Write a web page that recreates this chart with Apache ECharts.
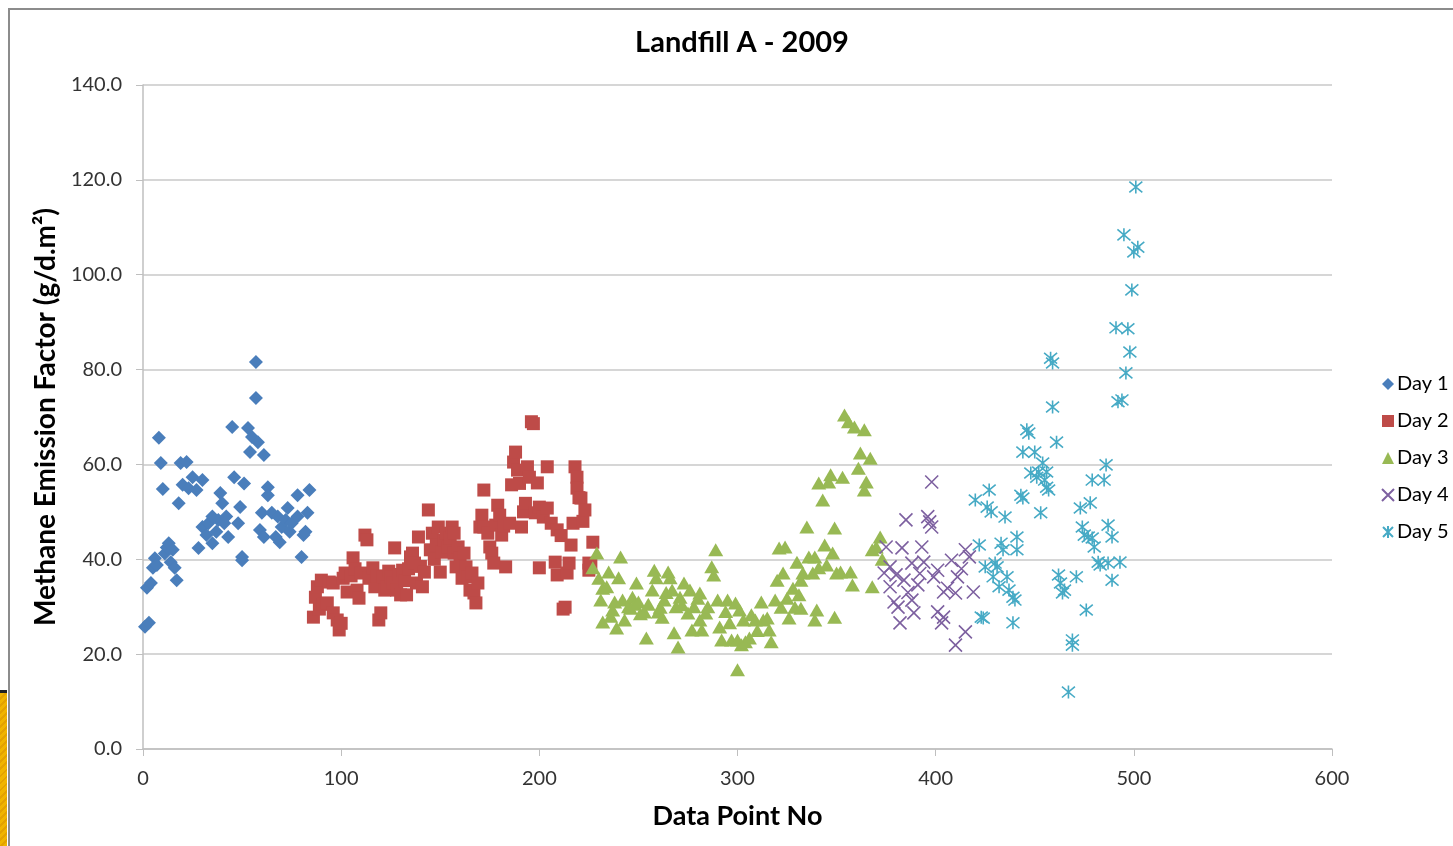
<!DOCTYPE html>
<html><head><meta charset="utf-8">
<script src="https://cdn.jsdelivr.net/npm/echarts@6/dist/echarts.min.js"></script>
<style>
html,body{margin:0;padding:0;background:#fff;}
#c{position:absolute;left:0;top:0;width:1453px;height:846px;}
#frame{position:absolute;left:8px;top:8px;right:0;bottom:0;border-top:2px solid #8c8c8c;border-left:2px solid #8c8c8c;pointer-events:none;}
#deco{position:absolute;left:0;top:690px;width:7px;height:156px;background:repeating-linear-gradient(135deg,#f0b400 0,#f0b400 3px,#e3a200 3px,#e3a200 5px);border-top:3px solid #222;}
</style></head>
<body>
<div id="c"></div>
<div id="frame"></div>
<div id="deco"></div>
<script>
const seriesNames = ['Day 1','Day 2','Day 3','Day 4','Day 5'];
const yTicks = [0,20,40,60,80,100,120,140];
const xTicks = [0,100,200,300,400,500,600];

const day1 = [[1,25.8],[2,34.0],[3,26.6],[4,35.0],[5,38.2],[6,40.2],[7,38.8],[8,65.6],[9,60.3],[10,54.8],[11,41.2],[12,42.5],[13,43.4],[14,39.4],[15,42.0],[16,38.2],[17,35.6],[18,51.8],[19,60.3],[20,55.7],[22,60.5],[23,55.0],[25,57.3],[27,54.6],[28,42.4],[30,56.7],[30,46.8],[33,47.6],[32,45.1],[35,49.0],[35,43.4],[37,45.8],[38,48.3],[39,54.0],[40,51.8],[42,49.0],[41,47.6],[43,44.7],[45,67.9],[46,57.3],[48,47.6],[49,51.0],[50,39.8],[50,40.5],[51,56.0],[53,67.7],[54,62.6],[55,65.8],[57,74.0],[57,81.6],[58,64.7],[61,62.0],[60,49.8],[59,46.2],[61,44.7],[63,55.2],[63,53.5],[65,49.8],[67,44.7],[68,49.0],[69,43.6],[70,46.8],[72,48.3],[73,50.8],[74,45.8],[75,47.6],[78,53.5],[78,49.0],[80,40.5],[81,45.1],[82,45.8],[83,49.8],[84,54.6]];

const day2 = [[86,27.8],[87,32.0],[88,34.2],[89,29.5],[90,35.6],[91,30.5],[93,30.8],[94,35.2],[96,35.0],[96,28.7],[98,27.2],[99,25.1],[100,26.5],[101,36.0],[102,37.1],[103,33.1],[105,36.5],[106,40.3],[107,38.0],[108,33.5],[109,31.8],[110,37.1],[112,45.1],[113,44.1],[114,36.0],[116,38.2],[117,34.2],[118,36.5],[119,27.2],[120,28.7],[121,36.3],[122,33.5],[123,34.2],[124,37.5],[125,36.3],[126,35.0],[127,42.4],[128,33.5],[129,36.8],[130,32.5],[131,37.7],[132,35.5],[133,32.5],[134,38.0],[135,40.5],[136,41.3],[137,39.2],[138,35.0],[139,44.7],[140,38.5],[141,34.2],[142,37.3],[144,50.4],[145,42.0],[146,45.5],[147,40.0],[148,43.0],[149,46.8],[150,37.3],[151,41.5],[152,44.0],[153,45.5],[154,42.5],[155,44.5],[156,46.8],[157,41.3],[158,38.4],[157,45.5],[159,42.6],[160,40.3],[161,36.0],[162,41.3],[163,38.4],[164,36.3],[165,33.5],[166,37.1],[167,32.9],[168,30.8],[169,35.0],[170,46.8],[171,49.3],[172,54.6],[172,46.8],[174,45.5],[175,42.6],[176,41.3],[177,39.2],[178,47.2],[179,51.4],[180,49.3],[181,45.1],[182,47.0],[183,38.4],[185,47.6],[186,55.7],[187,60.5],[188,62.6],[189,58.8],[190,56.0],[191,46.8],[192,50.0],[193,51.8],[194,59.5],[195,57.3],[196,69.0],[197,68.6],[198,49.8],[199,56.1],[200,51.0],[200,38.2],[202,48.9],[204,59.5],[204,50.8],[206,47.6],[208,39.4],[209,46.2],[209,36.7],[211,45.0],[212,29.5],[213,29.9],[214,37.1],[215,39.2],[216,43.0],[217,47.6],[218,59.5],[219,57.3],[219,55.0],[220,53.0],[221,52.9],[222,48.0],[223,50.4],[225,39.2],[225,37.7],[227,43.6],[226,38.8]];

const day3 = [[227,38.2],[229,41.3],[230,36.0],[231,31.4],[232,33.9],[232,26.8],[234,34.2],[235,37.3],[236,28.0],[237,29.3],[238,31.0],[239,25.5],[240,36.1],[241,40.5],[242,31.4],[243,27.2],[245,30.0],[246,29.7],[247,32.0],[248,30.5],[249,35.0],[250,31.0],[251,28.5],[253,28.9],[254,23.4],[255,30.5],[257,33.5],[258,37.7],[259,36.1],[260,28.9],[261,29.9],[262,27.8],[263,31.4],[264,33.0],[265,37.3],[266,36.1],[267,33.5],[268,24.5],[269,30.0],[270,21.5],[271,32.0],[272,30.4],[273,35.0],[275,28.7],[276,33.5],[277,25.1],[278,30.0],[280,31.8],[281,32.9],[281,27.2],[282,25.1],[284,28.7],[285,30.0],[287,38.4],[288,36.7],[289,42.0],[290,31.4],[291,25.7],[292,23.0],[294,29.0],[295,31.4],[296,26.6],[297,23.0],[299,30.8],[300,16.7],[300,23.0],[301,29.3],[302,22.0],[303,27.2],[304,22.6],[306,23.4],[307,28.3],[309,27.2],[310,25.0],[312,31.0],[313,27.2],[315,27.6],[316,25.1],[317,22.6],[319,31.4],[320,35.6],[321,42.4],[322,29.9],[323,37.1],[324,42.6],[325,31.8],[326,27.6],[328,33.9],[329,29.9],[330,39.4],[331,32.5],[332,29.7],[332,35.6],[333,37.1],[335,46.8],[336,40.5],[338,37.1],[339,40.5],[339,27.2],[340,29.3],[341,38.2],[341,56.1],[343,52.5],[344,43.0],[345,38.8],[346,56.3],[347,57.8],[348,41.3],[349,46.6],[349,27.8],[350,37.1],[352,37.3],[353,57.3],[354,70.4],[356,69.0],[357,37.3],[358,34.6],[359,67.9],[361,59.2],[362,62.4],[364,67.3],[364,54.6],[365,56.3],[367,61.3],[368,34.2],[368,42.0],[370,42.6],[372,44.7],[373,40.0]];

const day4 = [[374,37.1],[375,42.6],[377,38.4],[377,34.2],[379,31.0],[380,36.7],[381,29.9],[382,26.6],[383,42.4],[384,35.6],[385,48.3],[386,33.0],[388,39.2],[388,31.4],[389,28.7],[391,34.6],[392,37.0],[393,42.6],[394,39.4],[396,49.0],[397,47.9],[398,46.8],[398,56.3],[399,36.3],[401,37.7],[401,28.9],[403,26.6],[404,33.1],[404,27.8],[406,33.9],[408,39.8],[410,32.9],[410,21.9],[411,36.3],[413,38.0],[415,42.0],[415,24.7],[417,40.5],[419,33.1]];

const day5 = [[420,52.5],[422,43.0],[423,27.8],[424,27.6],[425,38.4],[426,51.0],[427,54.6],[428,50.0],[429,36.3],[430,39.2],[431,38.4],[432,34.2],[433,43.4],[434,42.0],[435,48.9],[436,36.3],[437,33.5],[439,32.0],[439,26.6],[440,31.4],[441,44.7],[441,42.0],[443,53.5],[444,52.9],[444,62.6],[446,67.3],[447,66.6],[448,58.2],[450,62.6],[451,57.3],[452,58.4],[453,49.8],[454,60.3],[455,56.7],[456,58.4],[456,55.2],[457,54.6],[458,82.4],[459,81.4],[459,72.1],[461,64.7],[462,36.7],[463,35.0],[464,32.9],[465,33.5],[467,12.0],[469,23.0],[469,21.9],[471,36.3],[473,50.8],[474,46.8],[475,45.1],[476,29.3],[477,44.7],[478,51.9],[479,56.7],[479,44.5],[480,42.6],[482,39.4],[483,38.8],[485,56.7],[486,59.9],[487,47.2],[487,39.2],[489,44.7],[489,35.6],[491,88.8],[492,73.2],[493,39.4],[494,73.6],[495,108.4],[496,79.3],[497,88.6],[498,83.7],[499,96.8],[500,104.8],[501,118.5],[502,105.8]];

const FONT = 'Lato, "Open Sans", sans-serif';
const crossPath = 'path://M0 0 L10 10 M10 0 L0 10';
const starPath = 'path://M0 0 L10 10 M10 0 L0 10 M5 -1 L5 11';

const chart = echarts.init(document.getElementById('c'), null, {renderer:'canvas'});
chart.setOption({
  animation:false,
  backgroundColor:'#fff',
  title:{text:'Landfill A - 2009',left:737,top:23,textAlign:'center',
    textStyle:{fontFamily:FONT,fontWeight:'bold',fontSize:29,color:'#000'}},
  grid:{left:143,top:85,width:1189,height:664},
  legend:{orient:'vertical',left:1376,top:369,itemGap:17,itemWidth:12,itemHeight:12,
    textStyle:{fontFamily:FONT,fontSize:20,color:'#000',padding:[0,0,0,-2]},
    data:seriesNames},
  xAxis:{type:'value',min:0,max:600,interval:100,
    name:'Data Point No',nameLocation:'middle',nameGap:54,
    nameTextStyle:{fontFamily:FONT,fontWeight:'bold',fontSize:27,color:'#000'},
    axisLine:{lineStyle:{color:'#bfbfbf',width:1.5}},
    axisTick:{show:true,length:7,lineStyle:{color:'#bfbfbf'}},
    splitLine:{show:false},
    axisLabel:{margin:20,fontFamily:FONT,fontSize:20,color:'#333'}},
  yAxis:{type:'value',min:0,max:140,interval:20,
    name:'Methane Emission Factor (g/d.m\u00b2)',nameLocation:'middle',nameGap:81,nameRotate:90,
    nameTextStyle:{fontFamily:FONT,fontWeight:'bold',fontSize:28,color:'#000'},
    axisLine:{show:true,lineStyle:{color:'#bfbfbf',width:1.5}},
    axisTick:{show:true,length:7,lineStyle:{color:'#bfbfbf'}},
    splitLine:{lineStyle:{color:'#c8c8c8',width:1.5}},
    axisLabel:{margin:21,fontFamily:FONT,fontSize:20,color:'#333',formatter:v=>v.toFixed(1)}},
  series:[
    {name:'Day 1',type:'scatter',data:day1,symbol:'diamond',symbolSize:14,
      itemStyle:{color:'#4a7ebb',opacity:1}},
    {name:'Day 2',type:'scatter',data:day2,symbol:'rect',symbolSize:13,
      itemStyle:{color:'#be4b48',opacity:1}},
    {name:'Day 3',type:'scatter',data:day3,symbol:'triangle',symbolSize:[15,13],
      itemStyle:{color:'#98b954',opacity:1}},
    {name:'Day 4',type:'scatter',data:day4,symbol:crossPath,symbolSize:13,
      itemStyle:{color:'transparent',borderColor:'#7d60a0',borderWidth:1.6,opacity:1}},
    {name:'Day 5',type:'scatter',data:day5,symbol:starPath,symbolSize:13,
      itemStyle:{color:'transparent',borderColor:'#46aac5',borderWidth:1.6,opacity:1}}
  ]
});
</script>
</body></html>
